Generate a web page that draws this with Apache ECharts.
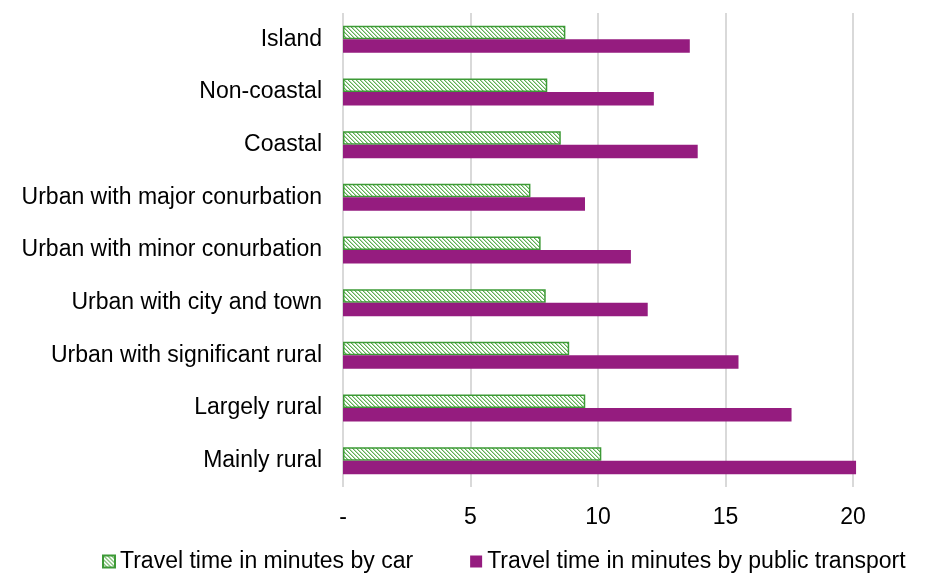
<!DOCTYPE html>
<html>
<head>
<meta charset="utf-8">
<script src="https://cdn.jsdelivr.net/npm/echarts@6/dist/echarts.min.js"></script>
<style>
  html, body { margin: 0; padding: 0; background: #fff; }
  #chart { width: 942px; height: 585px; }
</style>
</head>
<body>
<div id="chart"></div>
<script>
const categories = ['Island', 'Non-coastal', 'Coastal', 'Urban with major conurbation', 'Urban with minor conurbation',
  'Urban with city and town', 'Urban with significant rural', 'Largely rural', 'Mainly rural']
const carTimes = [8.72, 8.01, 8.54, 7.35, 7.75, 7.95, 8.87, 9.5, 10.13]
const transportTimes = [13.6, 12.19, 13.91, 9.49, 11.29, 11.95, 15.51, 17.59, 20.12]
const xTicks = [0, 5, 10, 15, 20]

// diagonal hatch for the car bars
const makeHatch = function () {
  let c = document.createElement('canvas')
  c.width = 8
  c.height = 8
  let ctx = c.getContext('2d')
  ctx.fillStyle = '#ffffff'
  ctx.fillRect(0, 0, 8, 8)
  for (let y = 0; y < 8; y++) {
    for (let x = 0; x < 8; x++) {
      let d = ((x - y) % 4 + 4) % 4
      if (d === 0) { ctx.fillStyle = '#5fae55'; ctx.fillRect(x, y, 1, 1) }
      if (d === 1) { ctx.fillStyle = '#b5dcae'; ctx.fillRect(x, y, 1, 1) }
    }
  }
  return c
}

const font = "'Liberation Sans', Arial, sans-serif"

let option = {
  animation: false,
  backgroundColor: '#fff',
  grid: {left: 343, right: 89, top: 13, bottom: 98},
  legend: {
    left: 97,
    top: 545,
    itemWidth: 12,
    itemHeight: 12,
    itemGap: 57,
    icon: 'rect',
    selectedMode: false,
    textStyle: {fontFamily: font, fontSize: 23, color: '#000'}
  },
  xAxis: {
    type: 'value',
    min: xTicks[0],
    max: xTicks[xTicks.length - 1],
    interval: 5,
    axisLine: {show: false},
    axisTick: {show: false},
    splitLine: {lineStyle: {color: '#d9d9d9', width: 2}},
    axisLabel: {
      fontFamily: font, fontSize: 23, color: '#000', margin: 19,
      formatter: function (v) { return v === 0 ? '-' : String(v) }
    }
  },
  yAxis: {
    type: 'category',
    inverse: true,
    data: categories,
    axisLine: {show: false},
    axisTick: {show: false},
    axisLabel: {fontFamily: font, fontSize: 23, color: '#000', margin: 21}
  },
  series: [
    {
      name: 'Travel time in minutes by car',
      type: 'bar',
      data: carTimes,
      barWidth: 13.5,
      barGap: '0%',
      clip: false,
      itemStyle: {color: {image: makeHatch(), repeat: 'repeat'}, borderColor: '#3d9a36', borderWidth: 1.5}
    },
    {
      name: 'Travel time in minutes by public transport',
      type: 'bar',
      data: transportTimes,
      barWidth: 13.5,
      barGap: '0%',
      clip: false,
      itemStyle: {color: '#951c7f'}
    }
  ]
}
echarts.init(document.getElementById('chart')).setOption(option)
</script>
</body>
</html>
